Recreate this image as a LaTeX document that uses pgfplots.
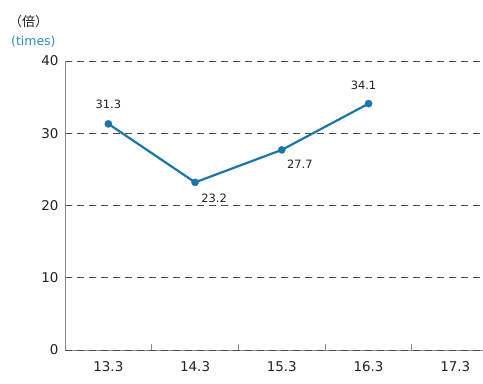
\documentclass[border=0pt]{standalone}
\usepackage{pgfplots}
\pgfplotsset{compat=1.18}
\usepackage{fontspec}
\setmainfont{DejaVu Sans}
\newfontfamily\cjk{Noto Sans CJK JP}
\definecolor{lineblue}{HTML}{1A75A8}
\definecolor{lblblue}{HTML}{2A8CC4}
\definecolor{gridgray}{HTML}{4A4A4A}
\definecolor{axgray}{HTML}{8A8A8A}
\definecolor{txt}{HTML}{222222}
\begin{document}
\begin{tikzpicture}[x=1bp,y=1bp]
\useasboundingbox (0,0) rectangle (483,383);
\begin{axis}[
  at={(65bp,33bp)}, anchor=south west,
  scale only axis, width=418bp, height=289bp,
  xmin=-0.5, xmax=4.32, ymin=0, ymax=40,
  axis lines=left, axis line style={axgray, line width=1pt, -},
  xtick={0.5,1.5,2.5,3.5}, xticklabels={},
  major tick length=6bp, tick align=inside,
  xtick style={draw=axgray, line width=1pt},
  extra x ticks={0,1,2,3,4}, extra x tick labels={13.3,14.3,15.3,16.3,17.3},
  extra x tick style={major tick length=0pt, grid=none},
  ytick={0,10,20,30,40}, ytick style={draw=none},
  ymajorgrids, grid style={gridgray, dash pattern=on 7bp off 5bp, line width=0.7pt},
  tick label style={font=\fontsize{13.5}{14}\selectfont, color=txt},
  /pgf/number format/assume math mode=true,
  xticklabel style={yshift=-8bp},
  yticklabel style={xshift=-3bp},
  clip=false,
]
\draw[gridgray, dash pattern=on 7bp off 5bp, line width=0.7pt] (axis cs:-0.5,0) -- (axis cs:4.32,0);
\addplot[lineblue, line width=2.2pt, mark=*, mark size=3.6bp, mark options={solid, fill=lineblue, draw=lineblue, line width=0.4pt}]
  coordinates {(0,31.3) (1,23.2) (2,27.7) (3,34.1)};
\begin{scope}[font=\fontsize{11.5}{12}\selectfont, text=txt]
\node at (axis cs:0,31.3) [yshift=20bp] {31.3};
\node at (axis cs:1,23.2) [xshift=19bp, yshift=-16bp] {23.2};
\node at (axis cs:2,27.7) [xshift=18bp, yshift=-14bp] {27.7};
\node at (axis cs:3,34.1) [xshift=-5bp, yshift=18bp] {34.1};
\end{scope}
\end{axis}
\node[anchor=west, font=\fontsize{13}{14}\selectfont, text=txt, inner sep=0pt] at (9,361) {\cjk （倍）};
\node[anchor=west, font=\fontsize{12.5}{13}\selectfont, text=lblblue, inner sep=0pt] at (11,341) {(times)};
\end{tikzpicture}
\end{document}
